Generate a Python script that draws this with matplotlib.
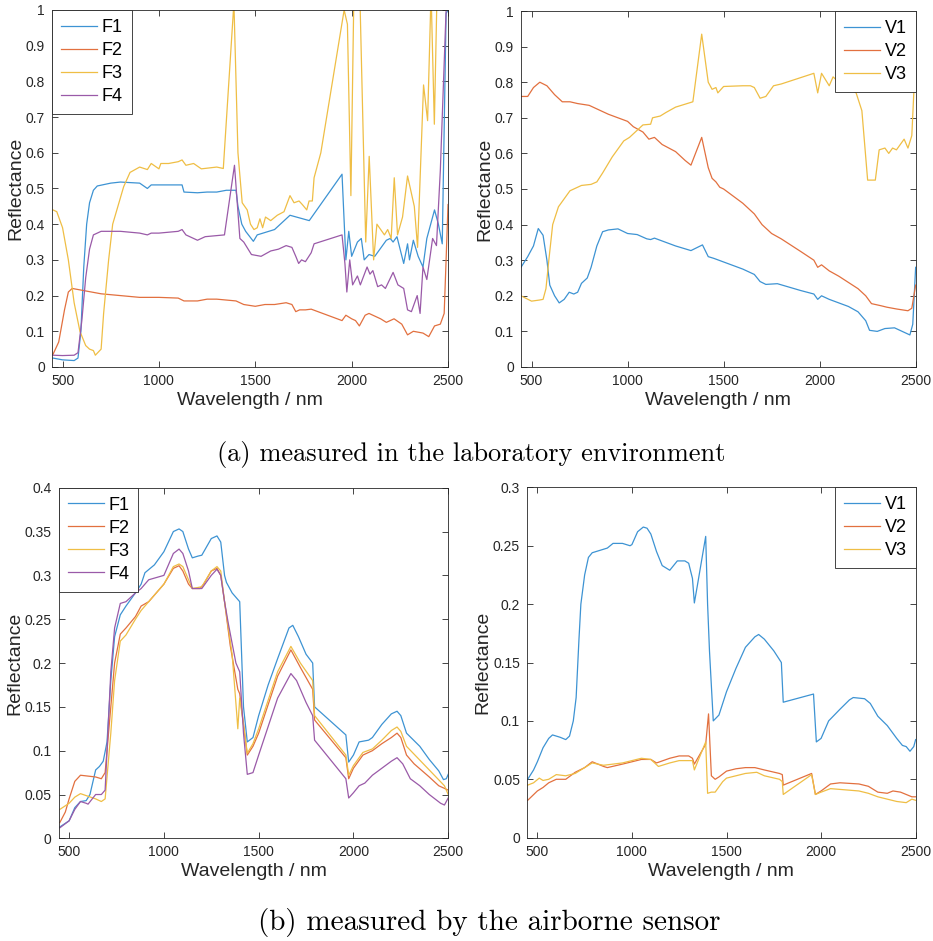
import numpy as np
import matplotlib
matplotlib.use("Agg")
import matplotlib.pyplot as plt
from matplotlib.ticker import FuncFormatter

# ---- (a) laboratory spectra ----
lab_f1_wl = [450, 500, 560, 580, 595, 610, 625, 640, 660, 680, 750, 800, 900, 940, 960, 1000,
             1100, 1120, 1130, 1200, 1250, 1300, 1350, 1400, 1410, 1430, 1450, 1490, 1510, 1600,
             1680, 1780, 1950, 1970, 1985, 2000, 2030, 2050, 2065, 2090, 2120, 2180, 2200, 2215,
             2235, 2270, 2290, 2300, 2320, 2345, 2370, 2390, 2430, 2450, 2470, 2490, 2500]
lab_f1 = [0.025, 0.02, 0.018, 0.025, 0.1, 0.28, 0.4, 0.46, 0.495, 0.507, 0.515, 0.518, 0.515, 0.5,
          0.51, 0.51, 0.51, 0.51, 0.49, 0.488, 0.49, 0.49, 0.495, 0.495, 0.45, 0.4, 0.38, 0.352,
          0.37, 0.385, 0.425, 0.41, 0.54, 0.3, 0.38, 0.31, 0.35, 0.36, 0.3, 0.315, 0.31, 0.355,
          0.36, 0.35, 0.365, 0.29, 0.345, 0.3, 0.355, 0.31, 0.28, 0.36, 0.44, 0.4, 0.345, 0.99, 1.0]

lab_f2_wl = [450, 480, 510, 530, 550, 600, 700, 800, 900, 1000, 1100, 1130, 1200, 1250, 1300,
             1400, 1440, 1500, 1550, 1600, 1660, 1690, 1710, 1730, 1760, 1790, 1850, 1950, 1970,
             2000, 2020, 2040, 2070, 2090, 2150, 2180, 2220, 2260, 2290, 2320, 2370, 2400, 2430,
             2460, 2480, 2490, 2500]
lab_f2 = [0.035, 0.07, 0.16, 0.21, 0.22, 0.215, 0.205, 0.2, 0.195, 0.195, 0.193, 0.185, 0.185,
          0.19, 0.19, 0.185, 0.175, 0.17, 0.175, 0.175, 0.18, 0.175, 0.155, 0.16, 0.16, 0.162,
          0.15, 0.13, 0.145, 0.135, 0.13, 0.115, 0.145, 0.15, 0.135, 0.125, 0.135, 0.12, 0.09,
          0.1, 0.095, 0.085, 0.115, 0.12, 0.15, 0.3, 0.455]

lab_f3_wl = [450, 470, 500, 530, 560, 590, 620, 640, 660, 670, 700, 713, 739, 760, 817, 850, 900,
             940, 960, 1000, 1010, 1050, 1100, 1120, 1140, 1180, 1220, 1300, 1334, 1389, 1410,
             1432, 1458, 1475, 1493, 1510, 1524, 1538, 1553, 1580, 1614, 1649, 1680, 1701, 1727,
             1744, 1767, 1779, 1796, 1805, 1840, 1961, 1978, 1996, 2013, 2040, 2073, 2091, 2114,
             2131, 2170, 2187, 2205, 2221, 2238, 2264, 2290, 2325, 2342, 2373, 2394, 2412, 2429,
             2443, 2500]
lab_f3 = [0.44, 0.435, 0.39, 0.3, 0.18, 0.1, 0.06, 0.05, 0.046, 0.033, 0.05, 0.15, 0.3, 0.4,
          0.505, 0.545, 0.56, 0.553, 0.57, 0.555, 0.57, 0.57, 0.575, 0.58, 0.565, 0.57, 0.555,
          0.56, 0.556, 1.02, 0.6, 0.46, 0.44, 0.4, 0.385, 0.39, 0.415, 0.39, 0.42, 0.41, 0.425,
          0.435, 0.48, 0.46, 0.465, 0.455, 0.44, 0.465, 0.465, 0.53, 0.6, 1.0, 0.96, 0.48, 1.1,
          1.1, 0.35, 0.59, 0.3, 0.4, 0.37, 0.385, 0.36, 0.53, 0.37, 0.42, 0.535, 0.45, 0.335,
          0.79, 0.69, 1.05, 0.68, 1.05, 1.05]

lab_f4_wl = [450, 500, 560, 580, 600, 620, 640, 660, 700, 800, 900, 940, 960, 1000, 1100, 1120,
             1140, 1200, 1240, 1340, 1392, 1420, 1440, 1480, 1530, 1580, 1620, 1660, 1690, 1710,
             1725, 1740, 1760, 1790, 1805, 1950, 1965, 1975, 1990, 2005, 2030, 2045, 2080, 2095,
             2110, 2135, 2155, 2175, 2215, 2240, 2270, 2290, 2310, 2340, 2355, 2370, 2390, 2420,
             2440, 2460, 2490]
lab_f4 = [0.033, 0.032, 0.033, 0.04, 0.13, 0.25, 0.33, 0.37, 0.38, 0.38, 0.375, 0.37, 0.375,
          0.375, 0.38, 0.385, 0.37, 0.355, 0.365, 0.37, 0.565, 0.36, 0.35, 0.315, 0.31, 0.325,
          0.33, 0.34, 0.335, 0.31, 0.29, 0.3, 0.295, 0.32, 0.345, 0.37, 0.29, 0.21, 0.3, 0.23,
          0.255, 0.23, 0.28, 0.26, 0.27, 0.225, 0.23, 0.22, 0.265, 0.23, 0.22, 0.16, 0.155, 0.2,
          0.15, 0.28, 0.245, 0.36, 0.34, 0.55, 1.0]

lab_v1_wl = [445, 480, 510, 535, 560, 580, 595, 620, 644, 670, 696, 720, 740, 760, 790, 810, 840,
             870, 900, 950, 1000, 1050, 1100, 1120, 1140, 1200, 1250, 1330, 1390, 1420, 1450,
             1500, 1600, 1660, 1690, 1720, 1780, 1900, 1970, 1990, 2010, 2050, 2100, 2150, 2200,
             2240, 2260, 2300, 2340, 2390, 2430, 2470, 2485, 2500]
lab_v1 = [0.28, 0.31, 0.34, 0.389, 0.37, 0.3, 0.23, 0.2, 0.18, 0.19, 0.21, 0.205, 0.21, 0.235,
          0.25, 0.28, 0.34, 0.38, 0.385, 0.388, 0.375, 0.372, 0.36, 0.358, 0.362, 0.35, 0.34,
          0.327, 0.343, 0.31, 0.305, 0.295, 0.275, 0.26, 0.24, 0.232, 0.234, 0.215, 0.205, 0.19,
          0.2, 0.19, 0.18, 0.17, 0.155, 0.13, 0.103, 0.1, 0.108, 0.11, 0.1, 0.09, 0.12, 0.28]

lab_v2_wl = [445, 480, 510, 543, 580, 620, 660, 700, 740, 800, 860, 900, 950, 1000, 1030, 1080,
             1111, 1140, 1180, 1250, 1300, 1330, 1386, 1420, 1440, 1460, 1480, 1500, 1600, 1660,
             1700, 1750, 1800, 1900, 1970, 1990, 2010, 2050, 2100, 2200, 2240, 2270, 2320, 2350,
             2400, 2460, 2480, 2500]
lab_v2 = [0.76, 0.76, 0.785, 0.8, 0.79, 0.765, 0.745, 0.745, 0.74, 0.735, 0.72, 0.71, 0.7, 0.69,
          0.675, 0.66, 0.64, 0.645, 0.625, 0.605, 0.58, 0.567, 0.645, 0.56, 0.53, 0.52, 0.505,
          0.5, 0.46, 0.43, 0.4, 0.375, 0.36, 0.325, 0.3, 0.28, 0.287, 0.27, 0.255, 0.22, 0.2,
          0.178, 0.172, 0.168, 0.163, 0.158, 0.165, 0.23]

lab_v3_wl = [445, 500, 540, 560, 575, 590, 610, 640, 700, 760, 810, 840, 870, 920, 980, 1010,
             1050, 1080, 1120, 1130, 1170, 1200, 1250, 1340, 1386, 1420, 1440, 1460, 1470, 1500,
             1600, 1640, 1660, 1690, 1720, 1760, 1800, 1970, 1990, 2010, 2050, 2070, 2100, 2140,
             2160, 2190, 2220, 2250, 2290, 2310, 2340, 2360, 2380, 2400, 2420, 2440, 2460, 2480,
             2500]
lab_v3 = [0.2, 0.185, 0.188, 0.19, 0.22, 0.3, 0.4, 0.45, 0.495, 0.51, 0.513, 0.52, 0.545, 0.59,
          0.635, 0.645, 0.665, 0.68, 0.682, 0.7, 0.705, 0.715, 0.73, 0.745, 0.935, 0.8, 0.78,
          0.785, 0.77, 0.788, 0.79, 0.79, 0.785, 0.755, 0.76, 0.79, 0.795, 0.825, 0.77, 0.825,
          0.79, 0.815, 0.8, 0.79, 0.78, 0.77, 0.72, 0.525, 0.525, 0.61, 0.615, 0.6, 0.615, 0.61,
          0.625, 0.64, 0.615, 0.65, 0.88]

# ---- (b) airborne spectra ----
air_f1_wl = [451, 500, 530, 560, 590, 610, 640, 660, 680, 700, 720, 740, 770, 800, 850, 880, 900,
             950, 1000, 1050, 1080, 1100, 1130, 1150, 1180, 1200, 1250, 1280, 1300, 1320, 1330,
             1360, 1400, 1420, 1440, 1470, 1500, 1550, 1600, 1660, 1680, 1710, 1750, 1785, 1795,
             1960, 1975, 2000, 2030, 2080, 2100, 2150, 2200, 2230, 2250, 2280, 2350, 2400, 2450,
             2475, 2490, 2500]
air_f1 = [0.013, 0.02, 0.035, 0.042, 0.043, 0.05, 0.078, 0.082, 0.088, 0.11, 0.18, 0.23, 0.255,
          0.265, 0.28, 0.29, 0.303, 0.312, 0.327, 0.35, 0.353, 0.35, 0.33, 0.32, 0.322, 0.323,
          0.342, 0.345, 0.338, 0.3, 0.292, 0.28, 0.27, 0.15, 0.11, 0.115, 0.14, 0.175, 0.205,
          0.24, 0.243, 0.23, 0.21, 0.2, 0.15, 0.118, 0.087, 0.095, 0.11, 0.112, 0.115, 0.13,
          0.142, 0.145, 0.14, 0.12, 0.105, 0.09, 0.077, 0.067, 0.068, 0.073]

air_f2_wl = [451, 480, 500, 530, 560, 600, 640, 670, 690, 720, 740, 770, 800, 850, 880, 920, 960,
             1000, 1050, 1080, 1100, 1130, 1150, 1190, 1210, 1250, 1280, 1300, 1320, 1350, 1390,
             1400, 1420, 1440, 1470, 1500, 1600, 1670, 1720, 1785, 1795, 1960, 1975, 2000, 2050,
             2100, 2150, 2200, 2230, 2250, 2280, 2320, 2400, 2450, 2500]
air_f2 = [0.018, 0.03, 0.045, 0.065, 0.072, 0.071, 0.07, 0.068, 0.075, 0.15, 0.2, 0.233, 0.24,
          0.253, 0.265, 0.27, 0.28, 0.29, 0.308, 0.311, 0.305, 0.29, 0.285, 0.285, 0.29, 0.305,
          0.308, 0.3, 0.27, 0.22, 0.17, 0.165, 0.13, 0.095, 0.105, 0.12, 0.185, 0.215, 0.195,
          0.17, 0.135, 0.092, 0.068, 0.08, 0.095, 0.1, 0.108, 0.115, 0.12, 0.115, 0.095, 0.085,
          0.07, 0.06, 0.055]

air_f3_wl = [451, 500, 530, 560, 600, 640, 670, 690, 720, 740, 770, 800, 850, 880, 920, 960, 1000,
             1050, 1080, 1100, 1130, 1150, 1200, 1250, 1280, 1300, 1320, 1360, 1385, 1390, 1400,
             1420, 1440, 1470, 1500, 1600, 1670, 1720, 1785, 1795, 1960, 1975, 2000, 2050, 2100,
             2150, 2200, 2230, 2250, 2280, 2400, 2480, 2500]
air_f3 = [0.033, 0.04, 0.047, 0.051, 0.048, 0.045, 0.042, 0.045, 0.12, 0.18, 0.225, 0.232, 0.25,
          0.26, 0.27, 0.28, 0.29, 0.31, 0.313, 0.31, 0.295, 0.285, 0.287, 0.305, 0.31, 0.305,
          0.27, 0.21, 0.14, 0.125, 0.16, 0.13, 0.097, 0.108, 0.125, 0.19, 0.219, 0.2, 0.18, 0.14,
          0.095, 0.072, 0.083, 0.098, 0.102, 0.112, 0.123, 0.127, 0.122, 0.105, 0.078, 0.06, 0.05]

air_f4_wl = [451, 500, 530, 560, 590, 600, 640, 670, 690, 720, 740, 770, 800, 850, 880, 920, 1000,
             1050, 1080, 1100, 1130, 1150, 1180, 1200, 1250, 1280, 1300, 1320, 1340, 1380, 1400,
             1420, 1440, 1470, 1500, 1600, 1670, 1700, 1750, 1785, 1795, 1960, 1975, 2000, 2030,
             2060, 2100, 2150, 2200, 2230, 2260, 2300, 2350, 2400, 2460, 2480, 2500]
air_f4 = [0.012, 0.02, 0.033, 0.042, 0.04, 0.039, 0.05, 0.05, 0.055, 0.19, 0.24, 0.268, 0.27,
          0.28, 0.285, 0.295, 0.3, 0.325, 0.33, 0.325, 0.305, 0.285, 0.285, 0.285, 0.3, 0.307,
          0.3, 0.27, 0.245, 0.2, 0.19, 0.12, 0.073, 0.075, 0.095, 0.16, 0.188, 0.18, 0.155, 0.14,
          0.112, 0.068, 0.046, 0.052, 0.06, 0.063, 0.072, 0.08, 0.088, 0.092, 0.085, 0.068, 0.06,
          0.05, 0.04, 0.038, 0.046]

air_v1_wl = [449, 480, 500, 530, 560, 580, 620, 650, 670, 690, 705, 720, 730, 750, 770, 790, 850,
             870, 900, 950, 990, 1000, 1030, 1060, 1080, 1100, 1130, 1160, 1200, 1240, 1280, 1300,
             1320, 1330, 1345, 1390, 1400, 1410, 1430, 1460, 1500, 1550, 1600, 1650, 1670, 1700,
             1750, 1790, 1800, 1960, 1975, 2000, 2040, 2100, 2150, 2170, 2230, 2260, 2300, 2350,
             2400, 2430, 2450, 2470, 2490, 2500]
air_v1 = [0.05, 0.058, 0.065, 0.077, 0.085, 0.088, 0.086, 0.084, 0.087, 0.1, 0.12, 0.17, 0.2,
          0.225, 0.24, 0.244, 0.247, 0.248, 0.252, 0.252, 0.25, 0.251, 0.262, 0.266, 0.265, 0.26,
          0.245, 0.233, 0.229, 0.237, 0.237, 0.235, 0.222, 0.201, 0.215, 0.258, 0.2, 0.16, 0.1,
          0.105, 0.125, 0.145, 0.163, 0.172, 0.174, 0.17, 0.16, 0.15, 0.116, 0.123, 0.082, 0.085,
          0.1, 0.11, 0.118, 0.12, 0.119, 0.115, 0.104, 0.096, 0.085, 0.079, 0.078, 0.074, 0.078,
          0.084]

air_v2_wl = [449, 500, 530, 560, 600, 650, 700, 750, 790, 850, 870, 950, 1000, 1050, 1100, 1130,
             1200, 1250, 1300, 1320, 1330, 1390, 1405, 1420, 1440, 1460, 1500, 1550, 1600, 1650,
             1700, 1780, 1795, 1800, 1950, 1970, 2000, 2050, 2100, 2200, 2250, 2300, 2350, 2380,
             2420, 2450, 2480, 2500]
air_v2 = [0.032, 0.04, 0.043, 0.047, 0.05, 0.05, 0.056, 0.06, 0.065, 0.061, 0.06, 0.063, 0.065,
          0.067, 0.067, 0.064, 0.068, 0.07, 0.07, 0.068, 0.063, 0.08, 0.106, 0.053, 0.05, 0.052,
          0.057, 0.059, 0.06, 0.06, 0.058, 0.055, 0.054, 0.045, 0.055, 0.037, 0.04, 0.046, 0.047,
          0.046, 0.044, 0.039, 0.038, 0.04, 0.039, 0.037, 0.035, 0.035]

air_v3_wl = [449, 480, 510, 530, 560, 600, 650, 700, 750, 790, 850, 900, 950, 1000, 1050, 1100,
             1140, 1200, 1250, 1320, 1330, 1390, 1400, 1420, 1440, 1480, 1500, 1600, 1660, 1700,
             1780, 1795, 1800, 1950, 1970, 2000, 2050, 2200, 2250, 2300, 2400, 2450, 2480, 2500]
air_v3 = [0.045, 0.047, 0.051, 0.049, 0.05, 0.054, 0.053, 0.055, 0.06, 0.064, 0.062, 0.063, 0.064,
          0.066, 0.068, 0.067, 0.061, 0.064, 0.066, 0.066, 0.058, 0.082, 0.038, 0.039, 0.039,
          0.048, 0.051, 0.055, 0.056, 0.053, 0.05, 0.048, 0.037, 0.054, 0.037, 0.039, 0.042,
          0.04, 0.038, 0.035, 0.031, 0.03, 0.033, 0.032]

# MATLAB default line colours, slightly lightened like in the scanned figure
colors = ['#3D93D3', '#E2703F', '#EFBE45', '#9A5AA8']
gray = '#262626'
sans = 'Liberation Sans'

fig = plt.figure(figsize=(9.33, 9.41), dpi=100)

panels = [
    ([0.0557, 0.610, 0.4245, 0.3794],
     [(lab_f1_wl, lab_f1), (lab_f2_wl, lab_f2), (lab_f3_wl, lab_f3), (lab_f4_wl, lab_f4)],
     ['F1', 'F2', 'F3', 'F4'], 1.0, 0.1, 'upper left'),
    ([0.5584, 0.610, 0.4230, 0.3783],
     [(lab_v1_wl, lab_v1), (lab_v2_wl, lab_v2), (lab_v3_wl, lab_v3)],
     ['V1', 'V2', 'V3'], 1.0, 0.1, 'upper right'),
    ([0.0629, 0.1091, 0.4175, 0.3726],
     [(air_f1_wl, air_f1), (air_f2_wl, air_f2), (air_f3_wl, air_f3), (air_f4_wl, air_f4)],
     ['F1', 'F2', 'F3', 'F4'], 0.4, 0.05, 'upper left'),
    ([0.5648, 0.1098, 0.4166, 0.3723],
     [(air_v1_wl, air_v1), (air_v2_wl, air_v2), (air_v3_wl, air_v3)],
     ['V1', 'V2', 'V3'], 0.3, 0.05, 'upper right'),
]

for rect, series, names, ymax, ystep, loc in panels:
    ax = fig.add_axes(rect)
    for (wl, vals), name, c in zip(series, names, colors):
        ax.plot(wl, vals, color=c, lw=0.9, label=name)
    ax.set_xlim(445, 2500)
    ax.set_ylim(0, ymax)
    ax.set_xticks([500, 1000, 1500, 2000, 2500])
    ax.set_yticks(np.arange(0, ymax + ystep / 2, ystep))
    ax.yaxis.set_major_formatter(FuncFormatter(lambda v, p: f'{round(v, 3):g}'))
    ax.tick_params(direction='in', top=True, right=True, length=4, width=0.6,
                   colors=gray, labelsize=10, pad=5)
    for lab in ax.get_xticklabels() + ax.get_yticklabels():
        lab.set_fontfamily(sans)
    for sp in ax.spines.values():
        sp.set_color(gray)
        sp.set_linewidth(0.6)
    ax.set_xlabel('Wavelength / nm', fontsize=14, family=sans, color=gray, labelpad=3)
    ax.set_ylabel('Reflectance', fontsize=14, family=sans, color=gray, labelpad=1)
    leg = ax.legend(loc=loc, borderaxespad=0, fancybox=False, framealpha=1,
                    edgecolor=gray, prop={'family': sans, 'size': 13},
                    handlelength=2.0, handletextpad=0.25, labelspacing=0.33,
                    borderpad=0.5)
    leg.get_frame().set_linewidth(0.6)

fig.text(0.5054, 0.5175, '(a) measured in the laboratory environment', ha='center',
         va='center', family='cmr10', fontsize=19)
fig.text(0.524, 0.020, '(b) measured by the airborne sensor', ha='center',
         va='center', family='cmr10', fontsize=21)

fig.savefig('out.png', dpi=100)
